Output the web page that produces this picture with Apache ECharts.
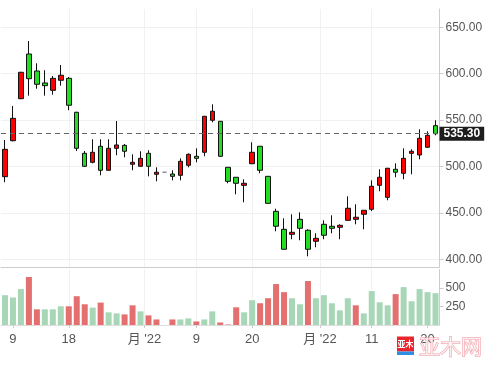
<!DOCTYPE html>
<html><head><meta charset="utf-8">
<script src="https://cdn.jsdelivr.net/npm/echarts@6/dist/echarts.min.js"></script>
<style>html,body{margin:0;padding:0;background:#fff}#c{width:501px;height:369px}</style>
</head><body><div id="c"></div>
<script>
// ---- data ----
const opens  = [489.0,527.8,573.1,621.2,602.9,590.0,582.1,592.9,595.0,558.4,514.2,504.5,521.8,495.9,519.6,522.8,502.4,500.2,514.2,491.6,493.8,491.9,490.5,501.3,511.0,515.3,549.8,548.7,499.1,488.4,479.7,503.0,521.8,489.4,451.7,432.3,426.9,443.1,431.3,419.4,437.7,435.6,434.5,442.0,443.1,448.5,453.9,479.7,466.8,497.0,492.7,514.2,512.4,520.7,544.0];
const closes = [518.5,551.9,601.5,594.6,588.6,587.1,595.0,598.3,566.0,519.6,500.2,515.3,495.9,519.6,523.2,516.4,504.5,508.8,500.2,493.8,493.8,489.4,505.6,513.1,508.8,554.1,559.5,511.0,484.0,481.9,481.9,515.3,495.9,460.3,435.6,410.8,429.1,433.4,410.8,422.6,425.9,433.4,436.6,455.0,445.3,452.8,478.7,488.4,498.1,493.8,508.8,516.4,530.4,533.6,535.3];
const lows   = [483.0,527.0,572.5,576.3,583.8,576.3,577.4,587.1,560.6,516.7,499.5,503.4,490.5,495.5,512.1,509.9,495.9,500.0,489.4,484.0,493.8,485.1,485.1,499.1,504.5,511.0,547.6,510.5,481.9,470.0,461.4,502.5,492.7,460.0,430.2,410.5,421.6,420.5,403.2,412.9,421.6,428.0,421.6,441.5,437.7,432.3,452.0,473.3,463.6,488.4,486.2,491.6,507.8,520.0,533.6];
const highs  = [528.6,565.2,602.0,635.2,611.2,603.7,597.5,609.4,596.4,559.0,516.7,529.3,529.3,529.3,549.0,524.2,513.1,516.4,517.5,499.1,493.8,495.9,508.8,514.2,519.6,554.5,567.0,549.0,499.5,488.5,486.2,526.1,522.0,489.5,454.5,444.2,448.5,450.6,432.3,428.0,442.0,447.4,437.7,467.9,459.3,453.0,485.1,497.0,498.5,503.4,519.6,518.5,540.1,537.9,549.8];
const volumes = [403,372,485,649,212,212,212,253,253,389,280,235,303,171,157,143,266,184,130,75,0,75,75,89,48,75,184,34,7,239,171,335,294,362,553,444,362,280,594,362,403,294,198,362,266,157,458,307,266,417,512,321,485,444,430];
const volumeDir = ['g','g','g','r','r','g','g','g','r','r','r','g','r','g','g','r','r','g','r','r','g','r','g','g','r','g','g','r','r','r','g','g','r','r','r','r','g','g','r','g','g','g','g','g','r','g','g','g','g','r','g','g','g','g','g'];
const tickPositions = [1, 8, 17.5, 24, 31, 39.5, 46, 53];
const tickLabels = ['9', '18', "月 '22", '9', '20', "月 '22", '11', '20'];
const lastPrice = 535.30;

const candleData = opens.map((o, i) => [i, o, closes[i], lows[i], highs[i]]);
const volData = volumes.map((v, i) => [i, v]);

function xLabel(v) {
  for (let k = 0; k < tickPositions.length; k++) {
    if (Math.abs(tickPositions[k] - v) < 1e-6) return tickLabels[k];
  }
  return '';
}
const FONT = '"Liberation Sans", Arial, "Noto Sans CJK SC", sans-serif';

const chart = echarts.init(document.getElementById('c'), null, {renderer: 'canvas'});
chart.setOption({
  animation: false,
  backgroundColor: '#ffffff',
  textStyle: {fontFamily: FONT},
  grid: [
    {left: 1, right: 61.5, top: 9, height: 258},
    {left: 1, right: 61.5, top: 269.5, height: 55.5}
  ],
  xAxis: [
    {type: 'value', gridIndex: 0, min: -0.5, max: 54.5,
     axisLine: {show: true, onZero: false, lineStyle: {color: '#cccccc'}},
     axisTick: {show: false, customValues: tickPositions},
     axisLabel: {show: false, customValues: tickPositions},
     splitLine: {show: true, showMinLine: false, showMaxLine: false, lineStyle: {color: '#f1f1f1'}}},
    {type: 'value', gridIndex: 1, min: -0.5, max: 54.5,
     axisLine: {show: true, onZero: false, lineStyle: {color: '#dddddd'}},
     axisTick: {show: true, length: 3, customValues: tickPositions, lineStyle: {color: '#cccccc'}},
     axisLabel: {show: true, customValues: tickPositions, formatter: xLabel, color: '#555', fontSize: 13, margin: 8, fontFamily: FONT},
     splitLine: {show: true, showMinLine: false, showMaxLine: false, lineStyle: {color: '#f1f1f1'}}}
  ],
  yAxis: [
    {type: 'value', gridIndex: 0, position: 'right', min: 391.7, max: 669.7, splitNumber: 5,
     axisLine: {show: true, onZero: false, lineStyle: {color: '#cccccc'}},
     axisTick: {show: true, length: 4, lineStyle: {color: '#cccccc'}},
     axisLabel: {color: '#555', fontSize: 12, margin: 6, showMinLabel: false, showMaxLabel: false,
                 formatter: v => v.toFixed(2), fontFamily: FONT},
     splitLine: {show: true, showMinLine: false, showMaxLine: false, lineStyle: {color: '#f1f1f1'}}},
    {type: 'value', gridIndex: 1, position: 'right', min: 0, max: 750, interval: 250,
     axisLine: {show: true, onZero: false, lineStyle: {color: '#cccccc'}},
     axisTick: {show: true, length: 4, lineStyle: {color: '#cccccc'}},
     axisLabel: {color: '#555', fontSize: 12, margin: 6, showMinLabel: false, showMaxLabel: false, fontFamily: FONT},
     splitLine: {show: false}}
  ],
  series: [
    {type: 'candlestick', xAxisIndex: 0, yAxisIndex: 0, data: candleData,
     encode: {x: 0, y: [1, 2, 3, 4]}, barWidth: 5,
     itemStyle: {color: '#ff0000', color0: '#22dd22', borderColor: '#111111', borderColor0: '#111111',
                 borderColorDoji: '#888888', borderWidth: 1},
     markLine: {silent: true, symbol: ['none', 'none'], animation: false,
       data: [{yAxis: lastPrice}],
       lineStyle: {color: '#666666', type: [5, 4], width: 1},
       label: {position: 'end', distance: 0, formatter: lastPrice.toFixed(2), color: '#ffffff',
               backgroundColor: '#1e1e1e', padding: [1, 4, 1, 4], fontSize: 12, lineHeight: 12,
               fontWeight: 'bold', fontFamily: FONT}}},
    {type: 'bar', xAxisIndex: 1, yAxisIndex: 1, data: volData, barWidth: 6,
     itemStyle: {color: p => volumeDir[p.dataIndex] === 'r' ? '#e36f6f' : '#a7d7b7'}}
  ],
  graphic: [
    {type: 'rect', z: 100, shape: {x: 397, y: 336.5, width: 17, height: 15}, style: {fill: '#e8262d'}},
    {type: 'text', z: 101, style: {x: 405.5, y: 344, text: '亚木', fill: '#ffffff', font: 'bold 8px "Noto Sans CJK SC"', align: 'center', verticalAlign: 'middle'}},
    {type: 'rect', z: 100, shape: {x: 397, y: 351.5, width: 17, height: 3.5}, style: {fill: '#2b8fe3'}},
    {type: 'text', z: 101, style: {x: 419, y: 346, text: '亚木网', fill: 'rgba(255,255,255,0.6)', stroke: '#f2a3ab', lineWidth: 1, font: '21px "Noto Sans CJK SC"', verticalAlign: 'middle'}}
  ]
});
</script>
</body></html>
